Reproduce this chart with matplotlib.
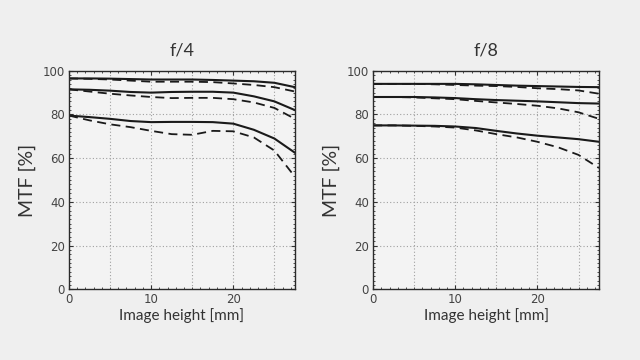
import numpy as np
import matplotlib.pyplot as plt
from matplotlib.ticker import MultipleLocator

# image height [mm]
x = [0, 2.5, 5, 7.5, 10, 12.5, 15, 17.5, 20, 22.5, 25, 27.5]

# f/4 curves (solid = sagittal, dashed = meridional)
f4_solid_hi = [96.5, 96.5, 96.4, 96.2, 96.0, 96.0, 96.0, 95.8, 95.5, 95.2, 94.5, 92.5]
f4_dash_hi = [96.5, 96.3, 96.0, 95.5, 95.0, 95.0, 95.0, 94.8, 94.2, 93.5, 92.5, 90.5]
f4_solid_mid = [91.5, 91.3, 90.9, 90.3, 90.0, 90.3, 90.4, 90.4, 90.0, 88.3, 86.0, 82.0]
f4_dash_mid = [91.5, 90.5, 89.5, 88.7, 88.0, 87.5, 87.6, 87.6, 87.0, 85.5, 83.0, 78.0]
f4_solid_lo = [79.5, 78.8, 78.0, 77.0, 76.5, 76.6, 76.6, 76.5, 75.8, 73.0, 69.0, 62.5]
f4_dash_lo = [79.5, 77.3, 75.5, 74.2, 72.5, 71.0, 70.7, 72.5, 72.3, 69.5, 63.5, 51.5]

# f/8 curves
f8_solid_hi = [94.0, 94.0, 94.0, 94.0, 94.0, 93.8, 93.5, 93.2, 93.0, 92.8, 92.6, 92.5]
f8_dash_hi = [94.0, 94.0, 94.0, 93.8, 93.5, 93.2, 93.0, 92.6, 92.0, 91.6, 91.0, 89.5]
f8_solid_mid = [88.0, 88.0, 88.0, 87.8, 87.5, 87.0, 86.6, 86.3, 86.0, 85.6, 85.2, 85.0]
f8_dash_mid = [88.0, 88.0, 87.8, 87.4, 87.0, 86.2, 85.5, 84.8, 84.0, 82.8, 81.0, 78.0]
f8_solid_lo = [75.0, 75.0, 74.9, 74.8, 74.5, 73.8, 72.5, 71.3, 70.3, 69.5, 68.7, 67.5]
f8_dash_lo = [75.0, 75.0, 74.8, 74.5, 74.0, 72.7, 71.0, 69.5, 67.5, 65.0, 61.5, 55.5]

titles = ["f/4", "f/8"]
yticks = [0, 20, 40, 60, 80, 100]
xticks = [0, 10, 20]

bg = "#efefef"
fig = plt.figure(figsize=(6.4, 3.6), dpi=100, facecolor=bg)
positions = [[0.1078, 0.1964, 0.353, 0.607], [0.583, 0.1964, 0.353, 0.607]]
panels = [
    [f4_solid_hi, f4_dash_hi, f4_solid_mid, f4_dash_mid, f4_solid_lo, f4_dash_lo],
    [f8_solid_hi, f8_dash_hi, f8_solid_mid, f8_dash_mid, f8_solid_lo, f8_dash_lo],
]

for pos, title, curves in zip(positions, titles, panels):
    ax = fig.add_axes(pos)
    ax.set_facecolor("#f3f3f3")
    for i, c in enumerate(curves):
        if i % 2 == 0:
            ax.plot(x, c, color="#1a1a1a", lw=1.5, ls="-")
        else:
            ax.plot(x, c, color="#1a1a1a", lw=1.3, ls=(0, (5, 3)))
    ax.set_xlim(0, 27.5)
    ax.set_ylim(0, 100)
    ax.set_xticks(xticks)
    ax.set_yticks(yticks)
    ax.xaxis.set_minor_locator(MultipleLocator(1))
    ax.yaxis.set_minor_locator(MultipleLocator(2))
    ax.tick_params(which="both", direction="in", top=True, right=True,
                   color="#333333", labelsize=8.5, labelcolor="#444444", pad=3)
    ax.tick_params(which="major", length=3)
    ax.tick_params(which="minor", length=1.5)
    for sp in ax.spines.values():
        sp.set_color("#2a2a2a")
        sp.set_linewidth(1.0)
    # grid at 5 mm and 20 %
    for gx in [5, 10, 15, 20, 25]:
        ax.axvline(gx, color="#a0a0a0", lw=0.8, ls=(0, (1, 2)), zorder=0)
    for gy in [20, 40, 60, 80]:
        ax.axhline(gy, color="#a0a0a0", lw=0.8, ls=(0, (1, 2)), zorder=0)
    ax.set_title(title, fontsize=13, color="#333333", pad=11, family="Lato")
    ax.set_xlabel("Image height [mm]", fontsize=11, color="#333333", labelpad=1, family="Lato")
    ax.set_ylabel("MTF [%]", fontsize=14, color="#333333", labelpad=5, family="Lato")

fig.savefig("out.png", dpi=100, facecolor=bg)
